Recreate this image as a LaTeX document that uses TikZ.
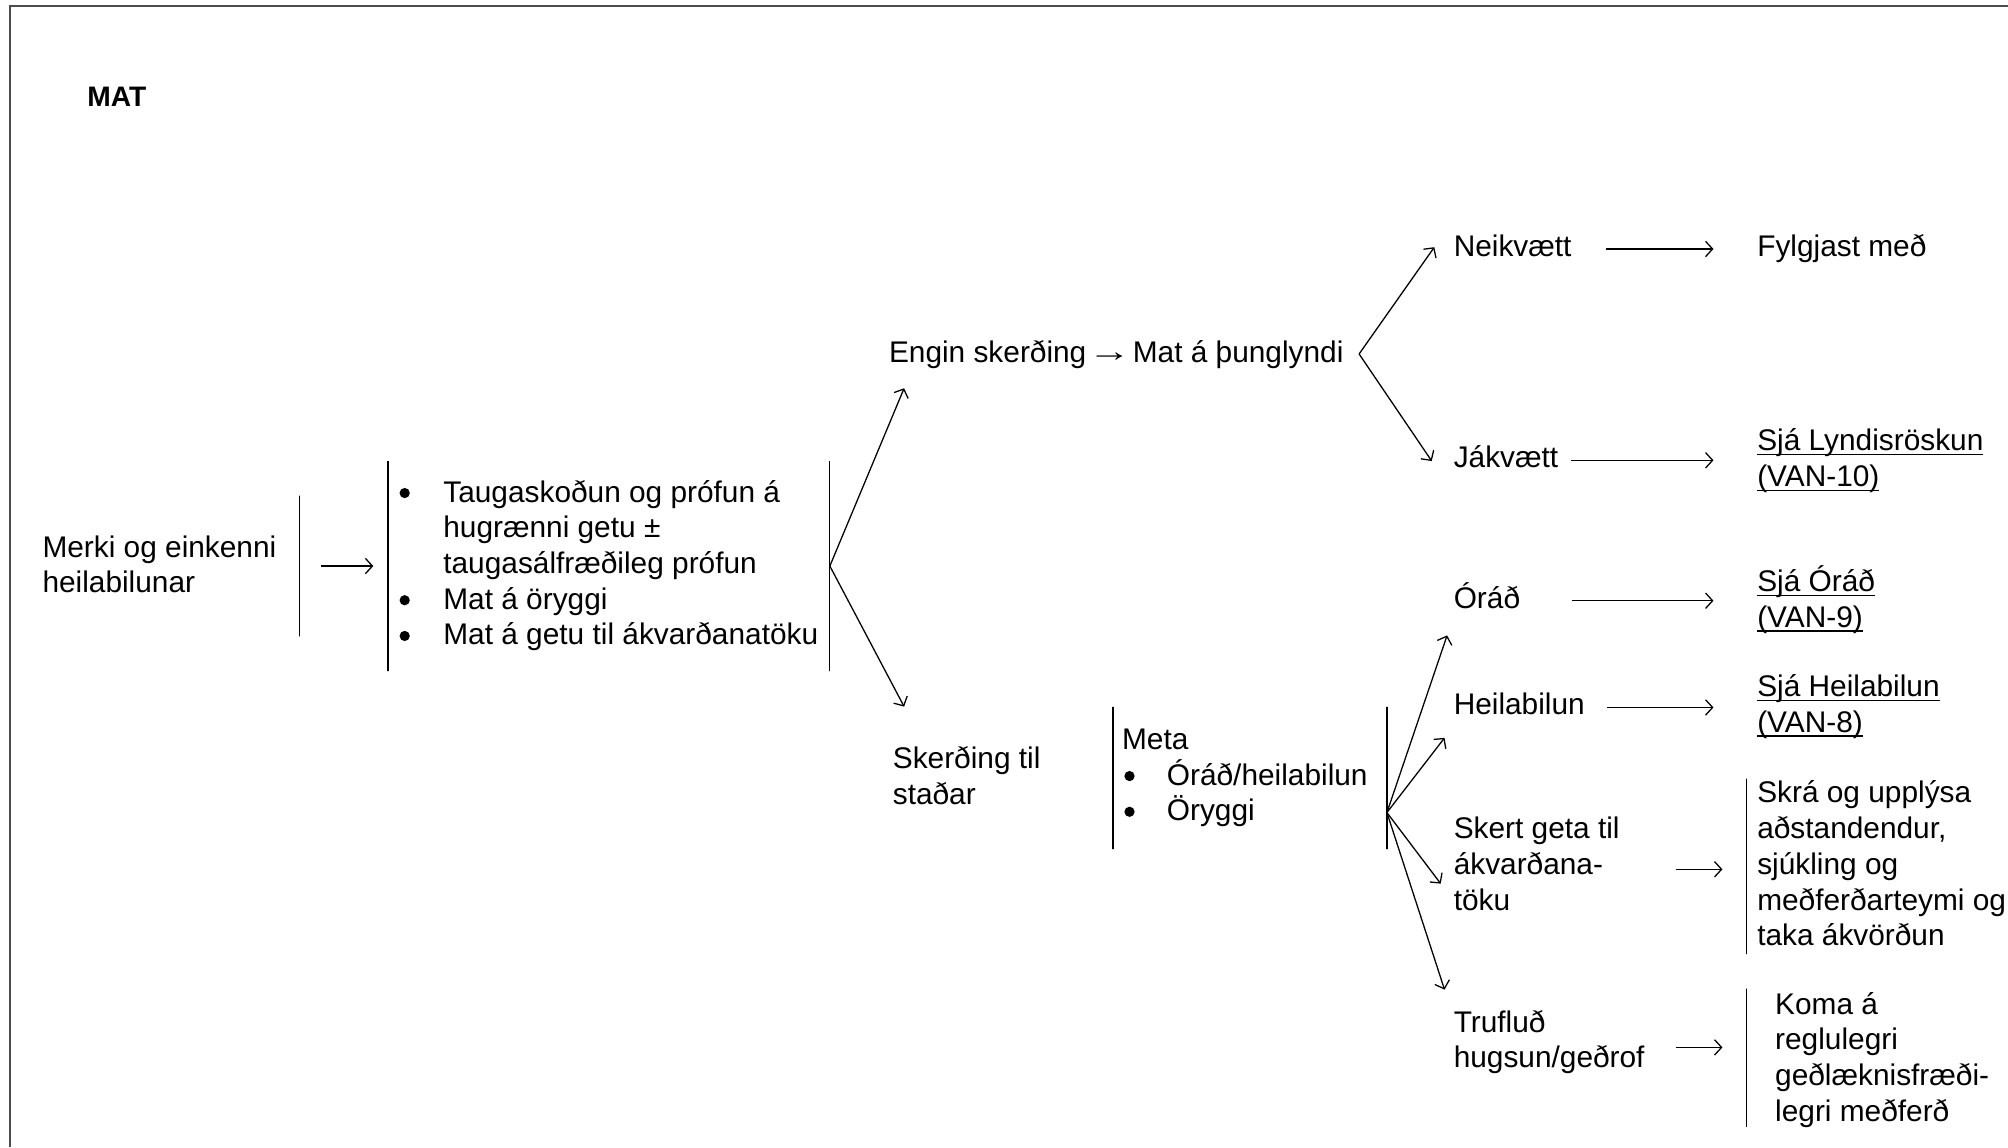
\documentclass[tikz,border=0pt]{standalone}
\usepackage{fontspec}
\setmainfont{Liberation Sans}
\usetikzlibrary{arrows.meta,calc}

% one or more left-aligned lines whose baseline is the first line's
\newcommand\txtlines[1]{\begin{tabular}[t]{@{}l@{}}#1\end{tabular}}
% link-style underline sitting just below the baseline
\newlength\ulwd
\newcommand\ulink[1]{\settowidth\ulwd{#1}\makebox[0pt][l]{\rule[-3.5pt]{\ulwd}{1.1pt}}#1}
% a slightly longer text arrow that keeps the normal advance width
\newcommand\longto{\makebox[1em][c]{\raisebox{1pt}{\scalebox{1.45}[1]{→}}}}

\begin{document}
\begin{tikzpicture}[x=1pt,y=-1pt,
  txt/.style={inner sep=0pt, anchor=base west, font=\fontsize{23.3pt}{27.9pt}\selectfont},
  vbar/.style={draw, inner sep=0pt, minimum width=0pt, line width=1pt},
  arr/.style={line width=1pt, -{Straight Barb[length=5.5pt,width=12pt]}},
  frame/.style={draw=black!70, line width=1.5pt}]

\useasboundingbox (0,0) rectangle (1568,896);

% page frame (top and left edges)
\draw[frame] (7.5,896) -- (7.5,4.5) -- (1568,4.5);

\node[txt, font=\fontsize{22pt}{26pt}\selectfont\bfseries] (mat) at (68,83) {MAT};

% first column
\node[txt] (merki) at (33,435) {\txtlines{Merki og einkenni\\heilabilunar}};
\node[vbar, minimum height=110pt] (bar1) at (234,442) {};
\node[vbar, minimum height=164pt] (bar2) at (303,442) {};
\node[txt] (list) at (346,392) {\txtlines{Taugaskoðun og prófun á\\hugrænni getu ±\\taugasálfræðileg prófun\\Mat á öryggi\\Mat á getu til ákvarðanatöku}};
\node[vbar, minimum height=164pt] (bar3) at (648,442) {};
\foreach \dy in {0,83.7,111.6}
  \fill ($(list.base west)+(-30,\dy-7)$) circle (4pt);

% no impairment branch
\node[txt] (engin) at (694,283) {\txtlines{Engin skerðing \longto{} Mat á þunglyndi}};
\coordinate (split) at ($(engin.east)+(12,-1)$);
\node[txt] (neik) at (1135,200) {\txtlines{Neikvætt}};
\node[txt] (fylg) at (1372,200) {\txtlines{Fylgjast með}};
\node[txt] (jak) at (1135,365) {\txtlines{Jákvætt}};
\node[txt] (sjal) at (1372,352) {\txtlines{\ulink{Sjá Lyndisröskun}\\\ulink{(VAN-10)}}};

% impairment branch
\node[txt] (sker) at (697,600) {\txtlines{Skerðing til\\staðar}};
\node[vbar, minimum height=111pt] (bar4) at (869,607.5) {};
\node[txt] (meta) at (876,585) {\txtlines{Meta}};
\node[txt] (metalist) at (911,613) {\txtlines{Óráð/heilabilun\\Öryggi}};
\foreach \dy in {0,27.9}
  \fill ($(metalist.base west)+(-29,\dy-7)$) circle (4pt);
\node[vbar, minimum height=111pt] (bar5) at (1083,607.5) {};
\coordinate (fan) at ($(bar5.south)+(0,-29)$);

\node[txt] (orad) at (1135,475) {\txtlines{Óráð}};
\node[txt] (sjao) at (1372,462) {\txtlines{\ulink{Sjá Óráð}\\\ulink{(VAN-9)}}};
\node[txt] (heil) at (1135,558) {\txtlines{Heilabilun}};
\node[txt] (sjah) at (1372,544) {\txtlines{\ulink{Sjá Heilabilun}\\\ulink{(VAN-8)}}};
\node[txt] (skert) at (1135,655) {\txtlines{Skert geta til\\ákvarðana-\\töku}};
\node[vbar, minimum height=137pt] (bar6) at (1364,676.5) {};
\node[txt] (skra) at (1372,627) {\txtlines{Skrá og upplýsa\\aðstandendur,\\sjúkling og\\meðferðarteymi og\\taka ákvörðun}};
\node[txt] (trufl) at (1135,806) {\txtlines{Trufluð\\hugsun/geðrof}};
\node[vbar, minimum height=108pt] (bar7) at (1364,826) {};
\node[txt] (koma) at (1386,792) {\txtlines{Koma á\\reglulegri\\geðlæknisfræði-\\legri meðferð}};

% connectors
\draw[arr, shorten <=16pt, shorten >=11pt] (bar1) -- (bar2);
\draw[arr] (bar3.center) -- ($(engin.south west)+(12,11.6)$);
\draw[arr] (bar3.center) -- ($(sker.north west)+(9,-28.5)$);

\draw[arr] (split) -- ($(neik.west)+(-15,-1.4)$);
\draw[arr] (split) -- ($(jak.west)+(-17,0.6)$);
\draw[arr, shorten <=27pt, shorten >=34pt] (neik.east) -- (neik.east -| fylg.west);
\draw[arr, shorten <=10pt, shorten >=34pt] (jak.east) -- (jak.east -| sjal.west);

\draw[arr] (fan) -- ($(orad.south west)+(-5,12.6)$);
\draw[arr] (fan) -- ($(heil.south west)+(-7,9.6)$);
\draw[arr] (fan) -- ($(skert.west)+(-10,12.7)$);
\draw[arr] (fan) -- ($(trufl.north west)+(-7,-13.5)$);

\draw[arr, shorten <=40pt, shorten >=34pt] (orad.east) -- (orad.east -| sjao.west);
\draw[arr, shorten <=17pt, shorten >=34pt] (heil.east) -- (heil.east -| sjah.west);
\draw[arr, shorten <=44pt, shorten >=19pt] ([yshift=-1.5pt]skert.east) -- ([yshift=-1.5pt]skert.east -| bar6);
\draw[arr, shorten <=24pt, shorten >=19pt] ([yshift=-3.5pt]trufl.east) -- ([yshift=-3.5pt]trufl.east -| bar7);
\end{tikzpicture}
\end{document}
